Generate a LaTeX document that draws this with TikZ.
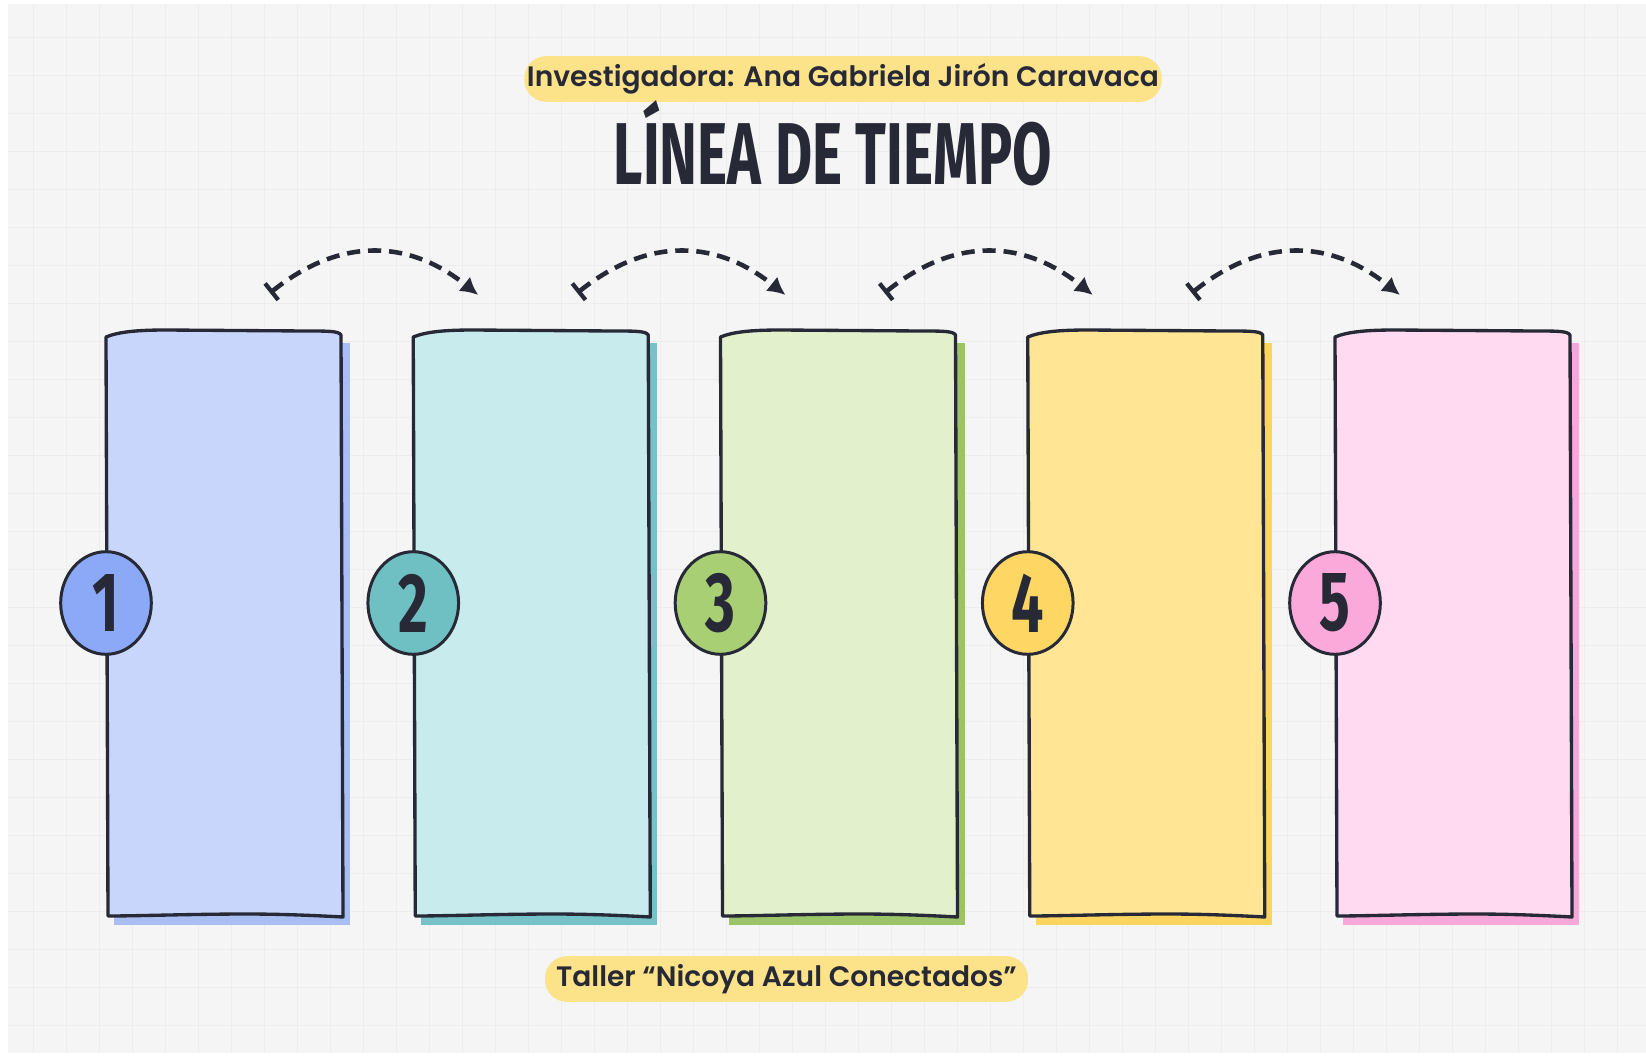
\documentclass[tikz,border=0pt]{standalone}
\usepackage{fontspec}
\setmainfont{Poppins}
\newfontfamily\pillfont{Poppins SemiBold}
\newfontfamily\headfont{Fira Sans}
\usetikzlibrary{calc,arrows.meta,positioning,shapes.geometric}

\definecolor{ink}{HTML}{272A36}
\definecolor{paper}{HTML}{F5F5F5}
\definecolor{gridc}{HTML}{EDEDED}
\definecolor{pill}{HTML}{FCE38A}
\definecolor{blueF}{HTML}{C8D6FB}
\definecolor{blueS}{HTML}{A9BEF3}
\definecolor{blueD}{HTML}{8BA9F6}
\definecolor{tealF}{HTML}{C8EBEE}
\definecolor{tealS}{HTML}{75C3C8}
\definecolor{tealD}{HTML}{6FC0C3}
\definecolor{greenF}{HTML}{E2F0CB}
\definecolor{greenS}{HTML}{9BC46A}
\definecolor{greenD}{HTML}{A8CF74}
\definecolor{yellowF}{HTML}{FFE594}
\definecolor{yellowS}{HTML}{FCD561}
\definecolor{yellowD}{HTML}{FDD663}
\definecolor{pinkF}{HTML}{FFDAF1}
\definecolor{pinkS}{HTML}{F6A8D8}
\definecolor{pinkD}{HTML}{FBA9DB}

\tikzset{
  gridline/.style={gridc, line width=0.5pt},
  cardline/.style={draw=ink, line width=1.9pt, line join=round, line cap=round},
  numdot/.style={ellipse, draw=ink, line width=1.7pt, inner sep=0pt,
    minimum width=51.6pt, minimum height=58.4pt,
    font=\headfont\bfseries\fontsize{48}{48}\selectfont, text=ink},
  pillbox/.style={fill=pill, rounded corners=12.5pt, inner sep=0pt,
    minimum height=26pt, text=ink, font=\pillfont\fontsize{16}{16}\selectfont},
  hop/.style={ink, line width=2.6pt, dash pattern=on 7.5pt off 4.5pt,
    {Bar[width=12pt,line width=2.4pt]}-{Latex[length=10pt,width=10.5pt]}}
}

\begin{document}
\begin{tikzpicture}[x=0.02cm, y=-0.02cm]
  \useasboundingbox (0,0) rectangle (1646,1058);
  \fill[white] (0,0) rectangle (1646,1058);
  \fill[paper] (8,4) rectangle (1646,1053);
  \foreach \gx in {33,66,...,1640}
    \draw[gridline] (\gx,4) -- (\gx,1053);
  \foreach \gy in {37,75,...,1050}
    \draw[gridline] (8,\gy) -- (1646,\gy);

  % cards
  \foreach \i/\fc/\sc/\dc in {1/blueF/blueS/blueD, 2/tealF/tealS/tealD,
      3/greenF/greenS/greenD, 4/yellowF/yellowS/yellowD, 5/pinkF/pinkS/pinkD}{
    \pgfmathsetmacro\cx{106+307.25*(\i-1)}
    \begin{scope}[shift={(\cx,331)}]
      \coordinate (card\i) at (0,0);
      \coordinate (tail\i) at (164,-38);
      \coordinate (head\i) at (65,-36);
      \fill[\sc] (8,12) rectangle (244,594);
      \filldraw[fill=\fc, cardline] (0,6) .. controls (12,1) and (30,-1) .. (60,-1)
        -- (200,0) .. controls (222,0) and (233,0) .. (235,4)
        -- (237,586) .. controls (200,584) and (170,583) .. (140,583)
        .. controls (90,583) and (30,585) .. (2,585) -- cycle;
      \node[numdot, fill=\dc] (num\i) at (0,272) {\scalebox{0.68}[1]{\i}};
    \end{scope}
  }

  % arrows between cards
  \foreach \i [evaluate=\i as \j using int(\i+1)] in {1,...,4}
    \draw[hop] (tail\i) .. controls +(70,-56) and +(-70,-56) .. (head\j);

  \node[pillbox, minimum width=362.8pt] (who) at (843,79)
    {Investigadora: Ana Gabriela Jirón Caravaca};
  \node[anchor=base, text=ink] (title) at (833,184)
    {\scalebox{0.65}[1]{\headfont\bfseries\fontsize{50}{50}\selectfont LÍNEA DE TIEMPO}};
  \node[pillbox, minimum width=275pt] (taller) at (786.5,979)
    {Taller “Nicoya Azul Conectados”};
\end{tikzpicture}
\end{document}
